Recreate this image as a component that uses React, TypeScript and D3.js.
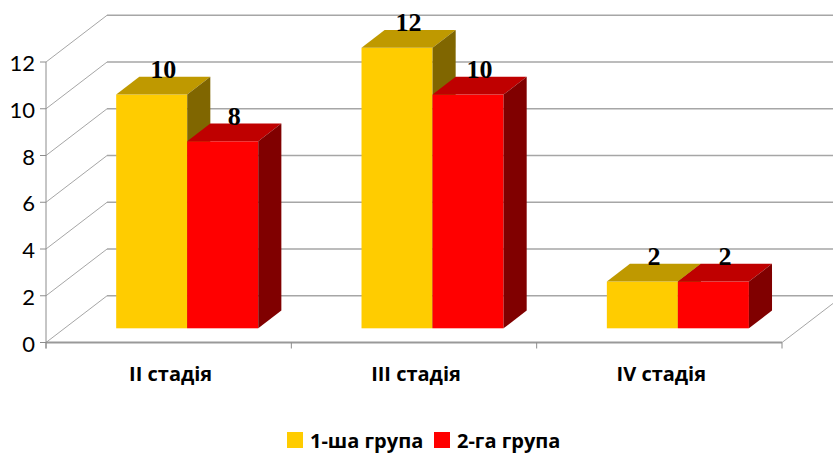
import React from 'react';
import * as d3 from 'd3';

// Data
const categories = ['II стадія', 'III стадія', 'IV стадія'];
const seriesNames = ['1-ша група', '2-га група'];
const group1 = [10, 12, 2];
const group2 = [8, 10, 2];
const yTicks = [0, 2, 4, 6, 8, 10, 12];

const W = 833;
const H = 454;

// 3D projection settings
const DEPTH_X = 61;
const DEPTH_Y = -46.7;
const BAR_FRONT = 0.304; // depth fraction of bar front face
const BAR_BACK = 0.683;

const faceColors = [
  { front: '#FFCC00', top: '#BF9900', side: '#806600' },
  { front: '#FF0000', top: '#BF0000', side: '#800000' },
];

const App = () => {
  const x = d3.scaleBand<string>().domain(categories).range([46, 782]);
  const inner = d3
    .scaleBand<string>()
    .domain(seriesNames)
    .range([0, x.bandwidth()])
    .paddingInner(0)
    .paddingOuter(0.727);
  const y = d3.scaleLinear().domain([0, 12]).range([342.5, 62]);

  const values = [group1, group2];
  const fx = BAR_FRONT * DEPTH_X;
  const fy = BAR_FRONT * DEPTH_Y;
  const bx = (BAR_BACK - BAR_FRONT) * DEPTH_X;
  const by = (BAR_BACK - BAR_FRONT) * DEPTH_Y;

  const gridColor = '#A6A6A6';
  const wallRight = 782 + DEPTH_X;

  return (
    <svg width={W} height={H} style={{ position: 'absolute', left: 0, top: 0 }}>
      <rect width={W} height={H} fill="#fff" />
      {/* side and back wall gridlines */}
      {yTicks.map(t => (
        <g key={t}>
          <line x1={46} y1={y(t)} x2={46 + DEPTH_X} y2={y(t) + DEPTH_Y} stroke={gridColor} strokeWidth={1} />
          <line x1={46 + DEPTH_X} y1={y(t) + DEPTH_Y} x2={wallRight} y2={y(t) + DEPTH_Y} stroke={gridColor} strokeWidth={1.5} />
        </g>
      ))}
      {/* floor right edge */}
      <line x1={782} y1={y(0)} x2={wallRight} y2={y(0) + DEPTH_Y} stroke={gridColor} strokeWidth={1} />
      {/* front floor line */}
      <line x1={46} y1={y(0)} x2={782} y2={y(0)} stroke="#999" strokeWidth={2} />
      {/* value axis */}
      <line x1={46} y1={y(12)} x2={46} y2={y(0) + 6} stroke="#8c8c8c" strokeWidth={1} />
      {yTicks.map(t => (
        <g key={'t' + t}>
          <line x1={40} y1={y(t)} x2={46} y2={y(t)} stroke="#8c8c8c" strokeWidth={1} />
          <text x={35} y={y(t) + 9} textAnchor="end" fontFamily="Lato" fontSize={22} fill="#000">
            {t}
          </text>
        </g>
      ))}
      {/* category ticks */}
      {[...categories.map(c => x(c) ?? 0), 782].map((v, i) => (
        <line key={'c' + i} x1={v} y1={y(0)} x2={v} y2={y(0) + 6} stroke="#8c8c8c" strokeWidth={1} />
      ))}
      {/* bars */}
      {categories.map((c, ci) =>
        seriesNames.map((s, si) => {
          const v = values[si][ci];
          const x0 = (x(c) ?? 0) + (inner(s) ?? 0) + fx;
          const x1 = x0 + inner.bandwidth();
          const yb = y(0) + fy;
          const yt = y(v) + fy;
          const col = faceColors[si];
          return (
            <g key={c + s}>
              <rect x={x0} y={yt} width={x1 - x0} height={yb - yt} fill={col.front} />
              <path d={`M${x0},${yt}L${x0 + bx},${yt + by}L${x1 + bx},${yt + by}L${x1},${yt}Z`} fill={col.top} />
              <path d={`M${x1},${yt}L${x1 + bx},${yt + by}L${x1 + bx},${yb + by}L${x1},${yb}Z`} fill={col.side} />
              <text
                x={(x0 + x1) / 2 + bx / 2}
                y={yt + by + 1}
                textAnchor="middle"
                fontFamily="Liberation Serif"
                fontWeight="bold"
                fontSize={26}
                fill="#000"
              >
                {v}
              </text>
            </g>
          );
        })
      )}
      {/* category labels */}
      {categories.map(c => (
        <text
          key={'l' + c}
          x={(x(c) ?? 0) + x.bandwidth() / 2 + 2}
          y={381}
          textAnchor="middle"
          fontFamily="Open Sans"
          fontWeight="bold"
          fontSize={20}
          fill="#000"
        >
          {c}
        </text>
      ))}
      {/* legend */}
      {seriesNames.map((s, i) => {
        const lx = [287, 434][i];
        return (
          <g key={'lg' + s}>
            <rect x={lx} y={432} width={16} height={16} fill={faceColors[i].front} />
            <text x={lx + 23} y={448} fontFamily="Open Sans" fontWeight="bold" fontSize={20} fill="#000">
              {s}
            </text>
          </g>
        );
      })}
    </svg>
  );
};

export default App;
